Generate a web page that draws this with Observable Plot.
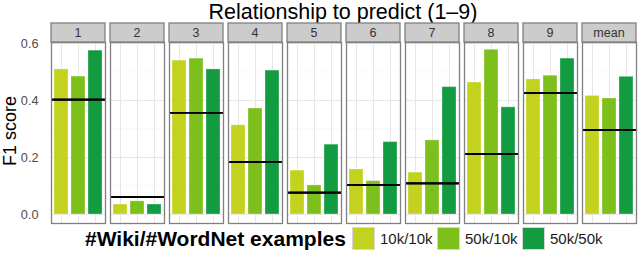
<!DOCTYPE html>
<html><head><meta charset="utf-8">
<script src="https://cdn.jsdelivr.net/npm/d3@7"></script>
<script src="https://cdn.jsdelivr.net/npm/@observablehq/plot@0.6"></script>
<style>
body{margin:0;width:640px;height:253px;position:relative;font-family:"Liberation Sans",Arial,sans-serif;background:#fff;overflow:hidden}
#title{position:absolute;left:49px;top:0;width:588px;text-align:center;font-size:21.5px;line-height:24px;color:#000;white-space:nowrap}
#chart{position:absolute;left:0;top:22px}
#legend{position:absolute;left:0;top:227px;width:640px;height:23px}
#legend span{position:absolute;white-space:nowrap}
#legend .ttl{font-weight:bold;font-size:21px;line-height:23px;top:0;color:#000}
#legend .sw{width:23px;height:23px;border:1px solid #d6d6d6;box-sizing:border-box;top:0}
#legend .lb{font-size:15px;line-height:23px;top:0;color:#1a1a1a}
</style></head>
<body>
<div id="title">Relationship to predict (1–9)</div>
<div id="chart"></div>
<div id="legend"></div>
<script>
const panels = ["1","2","3","4","5","6","7","8","9","mean"];
const seriesNames = ["10k/10k","50k/10k","50k/50k"];
const seriesColors = ["#c3d21e","#7dc01c","#139b41"];
const f1_10k10k = [0.509,0.035,0.540,0.313,0.154,0.158,0.147,0.463,0.474,0.416];
const f1_50k10k = [0.484,0.046,0.547,0.372,0.102,0.117,0.260,0.578,0.487,0.407];
const f1_50k50k = [0.575,0.035,0.509,0.505,0.245,0.254,0.447,0.376,0.547,0.483];
const baseline  = [0.403,0.061,0.357,0.184,0.077,0.104,0.109,0.212,0.427,0.297];
const yTicks = [0,0.2,0.4,0.6];
const yMinor = [0.1,0.3,0.5];
const legendTitle = "#Wiki/#WordNet examples";
const yLabel = "F1 score";

const seriesArrays = [f1_10k10k,f1_50k10k,f1_50k50k];
const rows = [];
panels.forEach((p,i)=>{
  seriesArrays.forEach((arr,j)=>rows.push({panel:p, series:seriesNames[j], value:arr[i], baseline:baseline[i]}));
});

const plot = Plot.plot({
  width:640, height:205,
  marginLeft:49, marginRight:3, marginTop:20, marginBottom:4,
  style:{fontFamily:"Liberation Sans, Arial, sans-serif", fontSize:"12.7px", color:"#4d4d4d", background:"transparent"},
  facet:{data:rows, x:"panel"},
  fx:{domain:panels, axis:null, paddingInner:0.09, paddingOuter:0},
  x:{domain:seriesNames, axis:null, paddingInner:0.16, paddingOuter:0.12},
  y:{domain:[-0.0316,0.6035], ticks:yTicks, tickFormat:d3.format(".1f"), tickSize:0, tickPadding:13, label:null},
  color:{domain:seriesNames, range:seriesColors},
  marks:[
    Plot.ruleY(yMinor,{stroke:"#f3f3f3", strokeWidth:0.7}),
    Plot.ruleY(yTicks,{stroke:"#e6e6e6", strokeWidth:1}),
    Plot.ruleX(seriesNames,{stroke:"#e6e6e6", strokeWidth:1}),
    Plot.barY(rows,{x:"series", y:"value", fill:"series", stroke:"#fff", strokeOpacity:0.3, strokeWidth:1}),
    Plot.ruleY(rows,{y:"baseline", stroke:"#000", strokeWidth:1.7}),
    Plot.frame({stroke:"#808080", strokeWidth:1.3})
  ]
});
document.getElementById("chart").appendChild(plot);

const svg = d3.select(plot);
const fx = plot.scale("fx");
const g = svg.append("g");
panels.forEach(p=>{
  const x0 = fx.apply(p);
  g.append("rect").attr("x",x0).attr("y",1).attr("width",fx.bandwidth).attr("height",19)
    .attr("fill","#cccccc").attr("stroke","#808080").attr("stroke-width",1.3);
  g.append("text").attr("x",x0+fx.bandwidth/2).attr("y",14.5).attr("text-anchor","middle")
    .attr("font-size",12.5).attr("font-weight","normal").attr("fill","#333333").text(p);
});
svg.append("text").attr("transform","translate(16,109) rotate(-90)").attr("text-anchor","middle")
  .attr("font-size",18).attr("fill","#000").text(yLabel);

const leg = d3.select("#legend");
leg.append("span").attr("class","ttl").style("left","85px").text(legendTitle);
const swLeft = [352,437,522];
seriesNames.forEach((s,i)=>{
  leg.append("span").attr("class","sw").style("left",swLeft[i]+"px").style("background",seriesColors[i]);
  leg.append("span").attr("class","lb").style("left",(swLeft[i]+28)+"px").text(s);
});
</script>
</body></html>
